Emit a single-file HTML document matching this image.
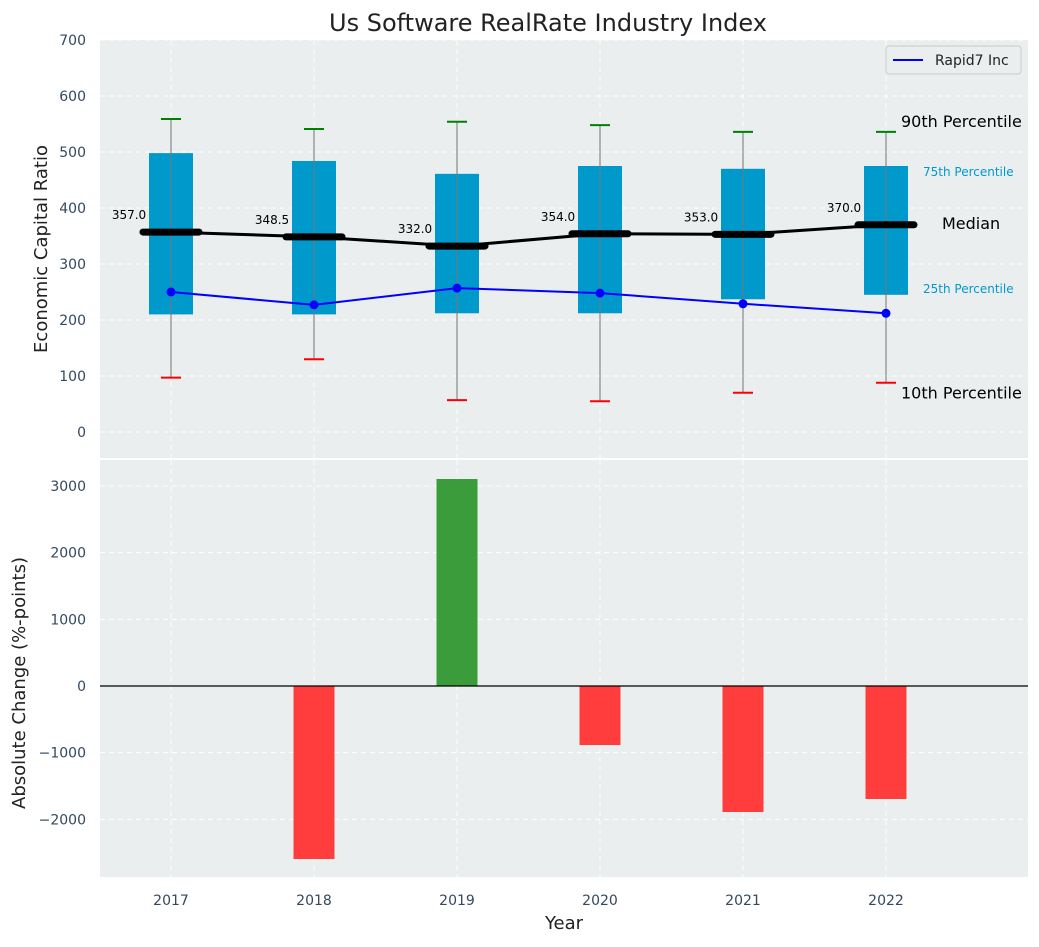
<!DOCTYPE html>
<html><head><meta charset="utf-8"><style>
body{margin:0;background:#fff;font-family:"Liberation Sans","DejaVu Sans",sans-serif}
svg text{font-family:"DejaVu Sans","Liberation Sans",sans-serif}
</style></head><body>
<svg id="chart" width="1039" height="942" xmlns="http://www.w3.org/2000/svg"></svg>
<script>
const years=[2017,2018,2019,2020,2021,2022];
const p10=[97,130,57,55,70,88];
const q1=[210,210,212,212,237,245];
const median=[357,348.5,332,354,353,370];
const q3=[498,484,461,475,470,475];
const p90=[559,541,554,548,536,536];
const rapid7=[250,227,257,248,229,212];
const change=[0,-2595,3105,-885,-1890,-1695];
const topTicks=[0,100,200,300,400,500,600,700];
const botTicks=[-2000,-1000,0,1000,2000,3000];

const svg=document.getElementById('chart');
const NS='http://www.w3.org/2000/svg';
function el(t,a,txt){const e=document.createElementNS(NS,t);for(const k in a)e.setAttribute(k,a[k]);if(txt!==undefined)e.textContent=txt;svg.appendChild(e);return e;}
const L=100,R=1028;
const x=i=>171+i*143;
const yT=v=>432-v*0.56;
const yB=v=>686-v*0.066667;

let p=el('rect',{x:L,y:40,width:R-L,height:418,fill:'#eaeeee'});


p=el('rect',{x:L,y:460,width:R-L,height:417,fill:'#eaeeee'});



topTicks.forEach(v=>{
  el('line',{x1:L,x2:R,y1:yT(v),y2:yT(v),stroke:'#fff','stroke-dasharray':'5,4','stroke-width':1});
  const t=el('text',{x:86,y:yT(v)+5,'text-anchor':'end','font-size':14,fill:'#34495e'},v);
  
  
});
botTicks.forEach(v=>{
  el('line',{x1:L,x2:R,y1:yB(v),y2:yB(v),stroke:'#fff','stroke-dasharray':'5,4','stroke-width':1});
  const t=el('text',{x:86,y:yB(v)+5,'text-anchor':'end','font-size':14,fill:'#34495e'},(v<0?'\u2212'+(-v):v));
  
  
});
years.forEach((yr,i)=>{
  el('line',{x1:x(i),x2:x(i),y1:40,y2:458,stroke:'#fff','stroke-dasharray':'5,4'});
  el('line',{x1:x(i),x2:x(i),y1:460,y2:877,stroke:'#fff','stroke-dasharray':'5,4'});
  const t=el('text',{x:x(i),y:905,'text-anchor':'middle','font-size':14,fill:'#34495e'},yr);
  
  
});

years.forEach((yr,i)=>{
  const b=el('rect',{x:x(i)-22,y:yT(q3[i]),width:44,height:yT(q1[i])-yT(q3[i]),fill:'#0099cc'});
  
  
  el('line',{x1:x(i),x2:x(i),y1:yT(p90[i]),y2:yT(p10[i]),stroke:'#777','stroke-width':1});
  el('line',{x1:x(i)-10,x2:x(i)+10,y1:yT(p90[i]),y2:yT(p90[i]),stroke:'green','stroke-width':2});
  el('line',{x1:x(i)-10,x2:x(i)+10,y1:yT(p10[i]),y2:yT(p10[i]),stroke:'red','stroke-width':2});
});
let m=el('polyline',{points:years.map((y,i)=>x(i)+','+yT(median[i])).join(' '),fill:'none',stroke:'#000','stroke-width':3});


years.forEach((yr,i)=>{
  const s=el('line',{x1:x(i)-28,x2:x(i)+28,y1:yT(median[i]),y2:yT(median[i]),stroke:'#000','stroke-width':7,'stroke-linecap':'round'});
  
  
  const t=el('text',{x:x(i)-42,y:yT(median[i])-13,'text-anchor':'middle','font-size':12,fill:'#000'},median[i].toFixed(1));
  
  
});
let r=el('polyline',{points:years.map((y,i)=>x(i)+','+yT(rapid7[i])).join(' '),fill:'none',stroke:'#0000ff','stroke-width':2});


years.forEach((yr,i)=>{
  const c=el('circle',{cx:x(i),cy:yT(rapid7[i]),r:4.5,fill:'#0000ff'});
  
  
});
const last=years.length-1;
[['90th Percentile',yT(p90[last])-10,16,'#000',901],['75th Percentile',yT(q3[last])+5,12,'#0099cc',923],['Median',yT(median[last])-1,16,'#000',942],['25th Percentile',yT(q1[last])-7,12,'#0099cc',923],['10th Percentile',yT(p10[last])+11,16,'#000',901]].forEach(a=>{
  const t=el('text',{x:a[4],y:a[1]+5,'font-size':a[2],fill:a[3]},a[0]);
  
  
});
let lg=el('rect',{x:886,y:46,width:135,height:28,fill:'#eaeeee',stroke:'#ccc',rx:3});


el('line',{x1:893,x2:923,y1:60,y2:60,stroke:'#0000ff','stroke-width':2});
let lt=el('text',{x:935,y:65,'font-size':14,fill:'#222'},'Rapid7 Inc');



years.forEach((yr,i)=>{
  const v=change[i];if(v===0)return;
  const b=el('rect',{x:x(i)-20.5,y:Math.min(yB(v),yB(0)),width:41,height:Math.abs(yB(v)-yB(0)),fill:v>0?'#3a9c3a':'#ff3d3d'});
  
  
});
el('line',{x1:L,x2:R,y1:yB(0),y2:yB(0),stroke:'#000','stroke-width':1.2});

let tt=el('text',{x:548,y:31,'text-anchor':'middle','font-size':24,fill:'#222'},'Us Software RealRate Industry Index');


tt=el('text',{x:0,y:0,'text-anchor':'middle','font-size':18,fill:'#222',transform:'translate(47,249) rotate(-90)'},'Economic Capital Ratio');


tt=el('text',{x:0,y:0,'text-anchor':'middle','font-size':18,fill:'#222',transform:'translate(25,683) rotate(-90)'},'Absolute Change (%-points)');


tt=el('text',{x:564,y:929,'text-anchor':'middle','font-size':18,fill:'#222'},'Year');


</script>
</body></html>
